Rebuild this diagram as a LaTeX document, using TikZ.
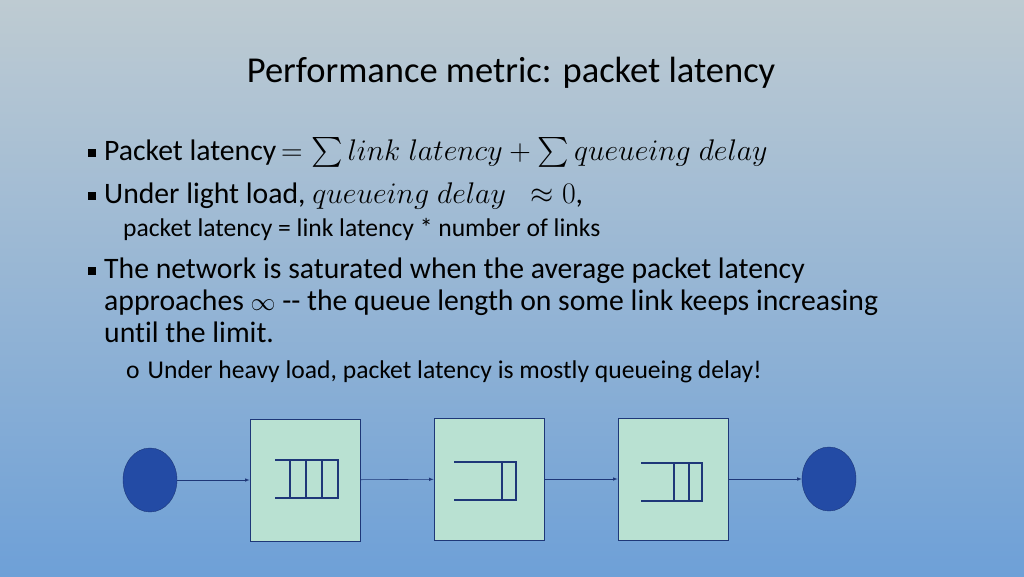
\documentclass[tikz,border=0pt]{standalone}
\usepackage{amsmath}
\usepackage{fontspec}
\setmainfont{Carlito}[Ligatures={NoCommon}]
\usetikzlibrary{positioning,shapes.geometric}
\definecolor{bgtop}{RGB}{190,203,210}
\definecolor{bgbot}{RGB}{110,160,215}
\definecolor{boxfill}{RGB}{185,225,210}
\definecolor{navy}{RGB}{30,55,120}
\definecolor{endblue}{RGB}{35,75,165}
\tikzset{router/.style={draw=navy,fill=boxfill,line width=0.8pt,minimum width=110pt,minimum height=122pt,inner sep=0pt}}
\tikzset{endpoint/.style={ellipse,draw=navy,fill=endblue,minimum width=54pt,minimum height=64pt,inner sep=0pt}}
\tikzset{qline/.style={draw=navy,line width=1.6pt}}
\tikzset{link/.style={draw=navy,line width=0.6pt,-latex}}
\tikzset{textline/.style={anchor=base west,inner sep=0pt,font=\fontsize{29.7}{34}\selectfont}}
\newcommand{\sqbullet}{\rule[3pt]{8pt}{8pt}\hspace{8pt}}
\newcommand{\bigmath}[1]{\scalebox{1.2}{$#1$}}
\begin{document}
\begin{tikzpicture}[x=1pt,y=-1pt]
        \shade[top color=bgtop,bottom color=bgbot] (0,0) rectangle (1024,576);
        \useasboundingbox (0,0) rectangle (1024,576);

        \node[anchor=base,inner sep=0pt,font=\fontsize{36.5}{40}\selectfont] (title) at (511,82) {Performance metric: packet latency};
        \node[textline] (l1) at (88,160) {\sqbullet Packet latency\,\bigmath{=\sum link\ latency+\sum queueing\ delay}};
        \node[textline] (l2) at (88,203) {\sqbullet Under light load, \bigmath{queueing\ delay\ \ \approx 0},};
        \node[textline,font=\fontsize{25.6}{29}\selectfont] (l3) at (123,236) {packet latency = link latency * number of links};
        \node[textline] (l4) at (88,278) {\sqbullet The network is saturated when the average packet latency};
        \node[textline] (l5) at (104,310) {approaches $\infty$ {-}{-} the queue length on some link keeps increasing};
        \node[textline] (l6) at (104,342) {until the limit.};
        \node[textline,font=\fontsize{25.6}{29}\selectfont] (l7) at (126,378) {o\hspace{8pt}Under heavy load, packet latency is mostly queueing delay!};

        \node[endpoint] (src) at (150,480) {};
        \node[router] (r1) at (305,480) {};
        \node[router] (r2) at (489,479) {};
        \node[router] (r3) at (673,479) {};
        \node[endpoint] (dst) at (829,479) {};

        \draw[link] (src) -- (r1);
        \draw[link] (r1) -- (r2);
        \draw[link] (r2) -- (r3);
        \draw[link] (r3) -- (dst);

        % queues
        \draw[qline] (275,460) -- (338,460) -- (338,498) -- (275,498);
        \foreach \x in {290,306,322} \draw[qline] (\x,460) -- (\x,498);
        \draw[qline] (454,462) -- (516,462) -- (516,500) -- (454,500);
        \draw[qline] (502,462) -- (502,500);
        \draw[qline] (641,463) -- (702,463) -- (702,501) -- (641,501);
        \foreach \x in {674,689} \draw[qline] (\x,463) -- (\x,501);
\end{tikzpicture}
\end{document}
